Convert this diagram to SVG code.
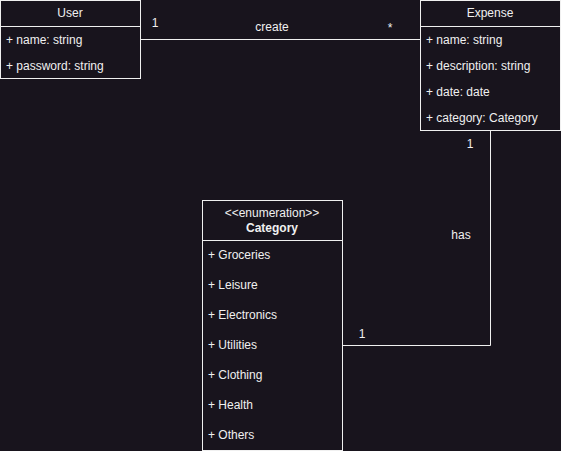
<svg xmlns="http://www.w3.org/2000/svg" width="561" height="451" viewBox="0 0 561 451">
<style>
text{font-family:"Liberation Sans",Arial,sans-serif;font-size:12px;fill:#f0f0f0}
.box{fill:#18141d;stroke:#f0f0f0;stroke-width:1}
.ln{stroke:#f0f0f0;stroke-width:1;fill:none}
.c{text-anchor:middle}
.b{font-weight:bold}
</style>
<rect width="561" height="451" fill="#18141d"/>
<g id="connectors">
<path class="ln" d="M140.5 39.5 H420.5"/>
<path class="ln" d="M490.5 130.5 V345.5 H342.5"/>
<text x="155" y="27" class="c">1</text>
<text x="272" y="31" class="c">create</text>
<text x="390" y="32" class="c">*</text>
<text x="470" y="148" class="c">1</text>
<text x="461" y="239" class="c">has</text>
<text x="362" y="338" class="c">1</text>
</g>
<g id="user">
<rect class="box" x="0.5" y="0.5" width="140" height="78"/>
<path class="ln" d="M0.5 26.5 H140.5"/>
<text x="70" y="17" class="c">User</text>
<text x="6" y="44">+ name: string</text>
<text x="6" y="70">+ password: string</text>
</g>
<g id="expense">
<rect class="box" x="420.5" y="0.5" width="140" height="130"/>
<path class="ln" d="M420.5 26.5 H560.5"/>
<text x="490" y="17" class="c">Expense</text>
<text x="426" y="44">+ name: string</text>
<text x="426" y="70">+ description: string</text>
<text x="426" y="96">+ date: date</text>
<text x="426" y="122">+ category: Category</text>
</g>
<g id="category">
<rect class="box" x="202.5" y="200.5" width="140" height="250"/>
<path class="ln" d="M202.5 240.5 H342.5"/>
<text x="272" y="217" class="c">&lt;&lt;enumeration&gt;&gt;</text>
<text x="272" y="232" class="c b">Category</text>
<text x="208" y="259">+ Groceries</text>
<text x="208" y="289">+ Leisure</text>
<text x="208" y="319">+ Electronics</text>
<text x="208" y="349">+ Utilities</text>
<text x="208" y="379">+ Clothing</text>
<text x="208" y="409">+ Health</text>
<text x="208" y="439">+ Others</text>
</g>
</svg>
